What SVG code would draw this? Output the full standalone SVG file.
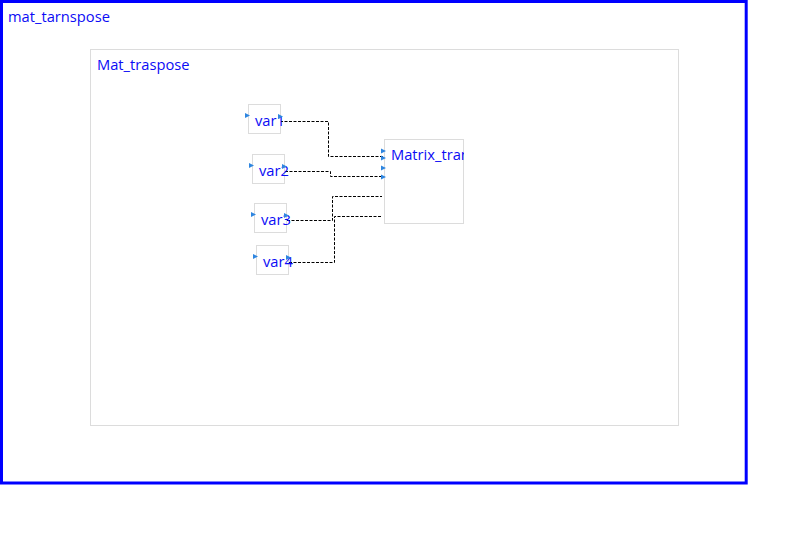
<svg xmlns="http://www.w3.org/2000/svg" width="798" height="535" viewBox="0 0 798 535">
  <style>
    .lbl { font-family: "Open Sans", "DejaVu Sans", sans-serif; font-size: 14.7px; fill: #0c0cf5; }
    .blk { fill: #ffffff; stroke: #dcdcdc; stroke-width: 1; }
    .port { fill: #2f86e0; }
    .wire { fill: none; stroke: #000000; stroke-width: 1; stroke-dasharray: 3 1.5; }
  </style>
  <defs>
    <polygon id="tri" points="0,0 5,2.5 0,5" class="port"/>
    <clipPath id="clipMatrix"><rect x="384" y="139" width="80" height="85"/></clipPath>
  </defs>
  <rect width="798" height="535" fill="#ffffff"/>

  <!-- outer model frame -->
  <g id="mat_tarnspose">
    <rect x="1.5" y="1.5" width="744.7" height="481.5" fill="none" stroke="#0000ff" stroke-width="3"/>
    <text class="lbl" x="8" y="22">mat_tarnspose</text>
  </g>

  <!-- subsystem frame -->
  <g id="Mat_traspose">
    <rect x="90.5" y="49.5" width="588" height="376" fill="none" stroke="#dcdcdc" stroke-width="1"/>
    <text class="lbl" x="97" y="70">Mat_traspose</text>
  </g>

  <!-- connectors -->
  <g id="connectors">
    <polyline class="wire" points="280,121.5 328.5,121.5 328.5,156.5 383,156.5"/>
    <polyline class="wire" points="285,171.5 330.5,171.5 330.5,176.5 383,176.5"/>
    <polyline class="wire" points="287,220.5 332.5,220.5 332.5,196.5 382,196.5"/>
    <polyline class="wire" points="289,262.5 334.5,262.5 334.5,216.5 382,216.5"/>
  </g>

  <g id="var1">
    <rect class="blk" x="248.5" y="104.5" width="32" height="29"/>
    <use href="#tri" x="245" y="113"/>
    <text class="lbl" x="255" y="126">var1</text>
    <use href="#tri" x="278" y="114"/>
  </g>

  <g id="var2">
    <rect class="blk" x="252.5" y="154.5" width="32" height="29"/>
    <use href="#tri" x="249" y="163"/>
    <text class="lbl" x="259" y="176">var2</text>
    <use href="#tri" x="282" y="164"/>
  </g>

  <g id="var3">
    <rect class="blk" x="254.5" y="203.5" width="32" height="29"/>
    <use href="#tri" x="251" y="212"/>
    <text class="lbl" x="261" y="225">var3</text>
    <use href="#tri" x="284" y="213"/>
  </g>

  <g id="var4">
    <rect class="blk" x="256.5" y="245.5" width="32" height="29"/>
    <use href="#tri" x="253" y="254"/>
    <text class="lbl" x="263" y="267">var4</text>
    <use href="#tri" x="286" y="255"/>
  </g>

  <g id="Matrix_transpose">
    <rect class="blk" x="384.5" y="139.5" width="79" height="84"/>
    <text class="lbl" x="391" y="160" clip-path="url(#clipMatrix)">Matrix_transpose</text>
    <use href="#tri" x="381" y="148.5"/>
    <use href="#tri" x="381" y="155.5"/>
    <use href="#tri" x="381" y="165.5"/>
    <use href="#tri" x="381" y="174.5"/>
  </g>
</svg>
